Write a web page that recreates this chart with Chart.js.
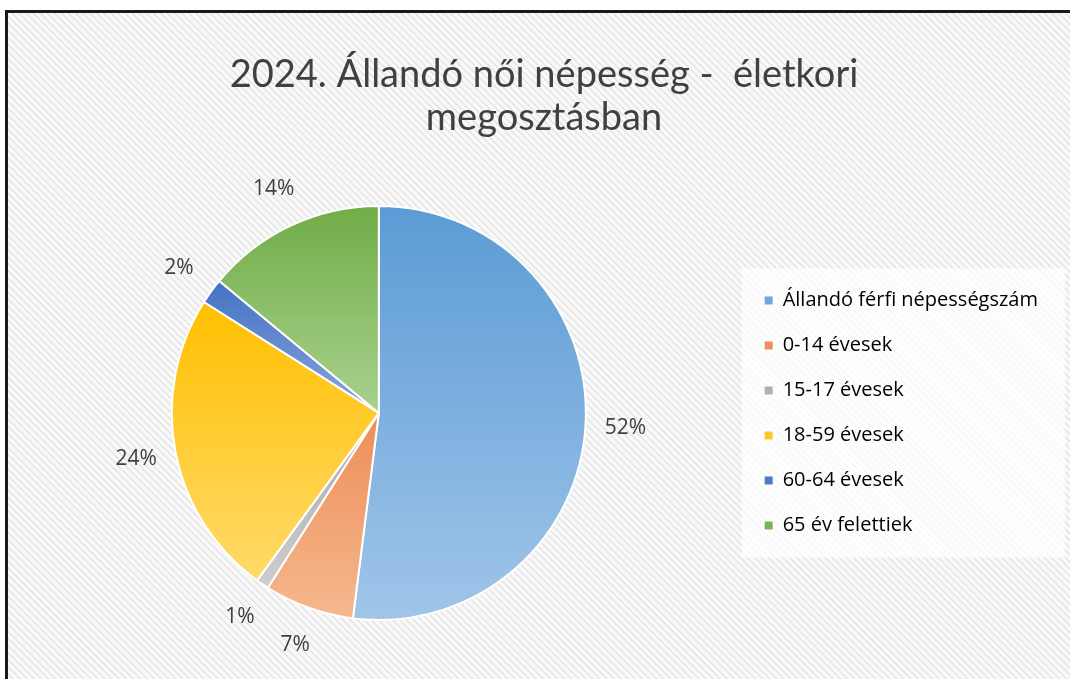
<!DOCTYPE html>
<html>
<head>
<meta charset="utf-8">
<script src="https://cdn.jsdelivr.net/npm/chart.js@4"></script>
<style>
  html, body { margin:0; padding:0; background:#fff; width:1070px; height:679px; overflow:hidden; }
  .frame { position:absolute; left:5px; top:10px; width:1062px; height:666px;
    border-left:3px solid #1a1a1a; border-top:3px solid #1a1a1a;
    background: repeating-linear-gradient(45deg, #f9f9f9 0px, #f9f9f9 2.5px, #e0e0e0 3.5px, #f9f9f9 5px); }
  canvas { display:block; }
</style>
</head>
<body>
<div class="frame"><canvas id="pie" width="1062" height="666"></canvas></div>
<script>
// ---- Data ----
const TITLE_LINES = ['2024. Állandó női népesség -  életkori', 'megosztásban'];
const CATEGORIES = ['Állandó férfi népességszám','0-14 évesek','15-17 évesek','18-59 évesek','60-64 évesek','65 év felettiek'];
const SHARES = [52, 7, 1, 24, 2, 14];
const COLOR_TOP = ['#5b9bd5','#ee8d57','#a9a9a9','#ffc000','#4472c4','#70ad47'];
const COLOR_BOTTOM = ['#a0c5e9','#f5b88e','#cecece','#ffda6a','#8aa6dc','#a9d18e'];
const LEGEND_COLORS = ['#6fa6db','#ef8f5b','#b0b0b0','#ffc72a','#5079c6','#7cb356'];
const TEXT = '#404040';
const TITLE_FONT = 'Lato, "Open Sans", sans-serif';
const FONT = '"Open Sans", Lato, sans-serif';

// widen the legend box a bit on its right side (keeps items in place)
const legendExtra = {
  id: 'legendExtra',
  beforeLayout(chart) {
    const lg = chart.legend;
    if (!lg || lg._widened) return;
    const fit = lg.fit.bind(lg);
    lg.fit = () => { fit(); lg.width += 22; };
    lg._widened = true;
  }
};

// per-slice vertical gradients, built from each arc's own bounding box
const sliceGradients = {
  id: 'sliceGradients',
  beforeDatasetsDraw(chart) {
    const ctx = chart.ctx;
    chart.getDatasetMeta(0).data.forEach((arc, i) => {
      const { x, y, startAngle, endAngle, outerRadius } = arc.getProps(['x','y','startAngle','endAngle','outerRadius'], true);
      const ys = [y, y + Math.sin(startAngle) * outerRadius, y + Math.sin(endAngle) * outerRadius];
      for (let k = -4; k <= 4; k++) {
        const a = k * Math.PI / 2;
        if (a > startAngle && a < endAngle) ys.push(y + Math.sin(a) * outerRadius);
      }
      const g = ctx.createLinearGradient(0, Math.min(...ys), 0, Math.max(...ys));
      g.addColorStop(0, COLOR_TOP[i]); g.addColorStop(1, COLOR_BOTTOM[i]);
      arc.options.backgroundColor = g;
    });
  }
};

// outside-end percentage labels
const outsideLabels = {
  id: 'outsideLabels',
  afterDatasetsDraw(chart) {
    const ctx = chart.ctx;
    ctx.save();
    ctx.font = '21px ' + FONT; ctx.fillStyle = TEXT;
    ctx.textAlign = 'center'; ctx.textBaseline = 'middle';
    chart.getDatasetMeta(0).data.forEach((arc, i) => {
      const { x, y, startAngle, endAngle, outerRadius } = arc.getProps(['x','y','startAngle','endAngle','outerRadius'], true);
      const mid = (startAngle + endAngle) / 2, r = outerRadius + 40;
      ctx.fillText(SHARES[i] + '%', x + Math.cos(mid) * r, y + Math.sin(mid) * r);
    });
    ctx.restore();
  }
};

// faint white panel behind the legend items
const legendPanel = {
  id: 'legendPanel',
  beforeDraw(chart) {
    const l = chart.legend, ctx = chart.ctx, hb = l.legendHitBoxes;
    if (!hb || !hb.length) return;
    const top = hb[0].top - 22, bottom = hb[hb.length - 1].top + hb[hb.length - 1].height + 22;
    ctx.save(); ctx.fillStyle = 'rgba(255,255,255,.75)';
    ctx.fillRect(l.left + 2, top, l.right - l.left - 7, bottom - top);
    ctx.restore();
  }
};

new Chart(document.getElementById('pie'), {
  type: 'pie',
  data: { labels: CATEGORIES, datasets: [{ data: SHARES, backgroundColor: COLOR_TOP, borderColor: '#fff', borderWidth: 2 }] },
  options: {
    responsive: false, animation: false,
    layout: { padding: { left: 10, right: 0, top: 0, bottom: 58 } },
    plugins: {
      title: { display: true, text: TITLE_LINES, color: TEXT, font: { family: TITLE_FONT, size: 38, weight: 'normal', lineHeight: 1.13 }, padding: { top: 40, bottom: 66 } },
      legend: { position: 'right', fullSize: false, labels: {
        color: TEXT, font: { family: FONT, size: 20 }, boxWidth: 8, boxHeight: 8, padding: 25,
        generateLabels: ch => CATEGORIES.map((c, i) => ({ text: c, fillStyle: LEGEND_COLORS[i], strokeStyle: LEGEND_COLORS[i], lineWidth: 0, index: i }))
      }},
      tooltip: { enabled: false }
    }
  },
  plugins: [legendExtra, legendPanel, sliceGradients, outsideLabels]
});
</script>
</body>
</html>
